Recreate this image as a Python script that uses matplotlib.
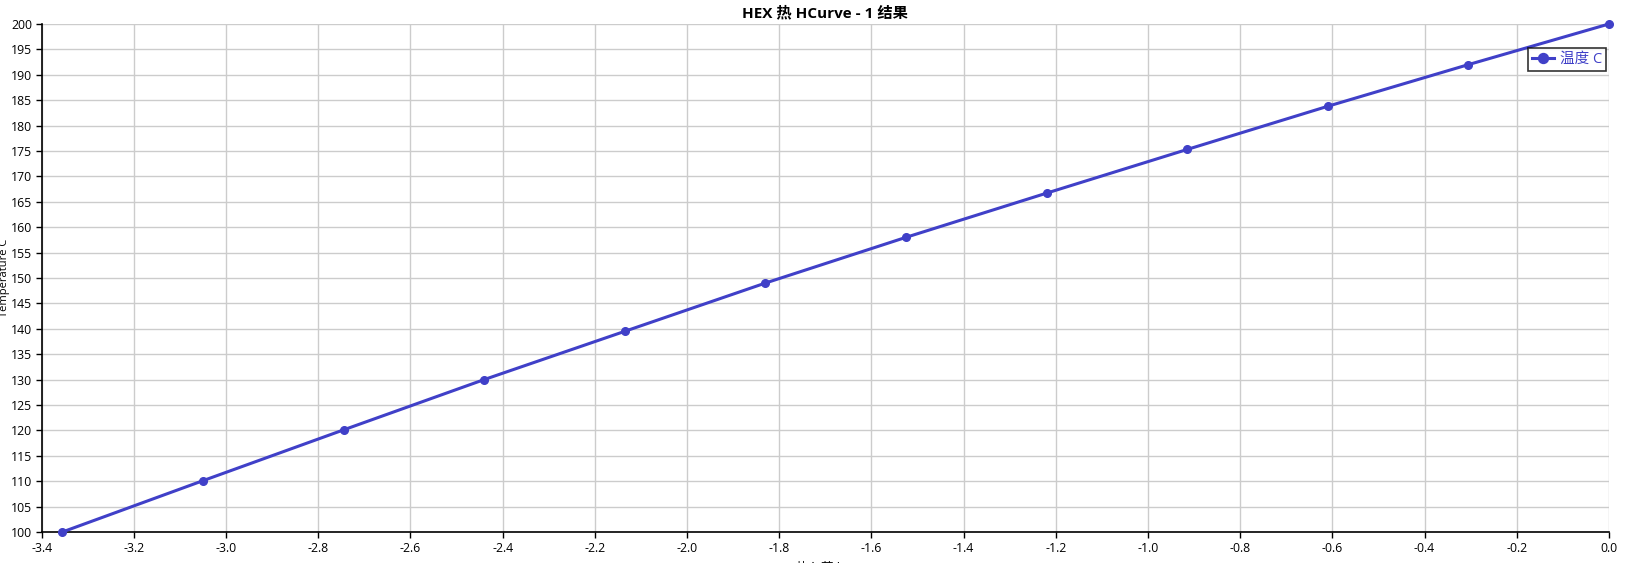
import matplotlib
matplotlib.use("Agg")
import numpy as np
from matplotlib import pyplot as plt

plt.rcParams['font.family'] = ['Open Sans', 'Noto Sans CJK SC', 'DejaVu Sans']

HEAT_DUTY = [-3.355, -3.05, -2.745, -2.44, -2.135, -1.83, -1.525, -1.22, -0.915, -0.61, -0.305, 0.0]
TEMPERATURE = [100.0, 110.1, 120.1, 130.0, 139.5, 149.0, 158.0, 166.7, 175.3, 183.8, 192.0, 200.0]
X_TICKS = np.round(np.arange(-3.4, 0.01, 0.2), 1)
Y_TICKS = np.arange(100, 201, 5)
LINE_COLOR = "#4040c8"


def main():
    fig = plt.figure(figsize=(16.27, 5.63), dpi=100)
    ax = fig.add_axes([0.0256, 0.0551, 0.9633, 0.9023])

    ax.plot(HEAT_DUTY, TEMPERATURE, color=LINE_COLOR, linewidth=2.2,
            marker="o", markersize=5.5, label="温度 C", clip_on=False, zorder=3)

    ax.set_xlim(-3.4, 0.0)
    ax.set_ylim(100, 200)
    ax.set_xticks(X_TICKS)
    ax.set_xticklabels([f"{v:.1f}" for v in X_TICKS])
    ax.set_yticks(Y_TICKS)
    ax.tick_params(labelsize=8.8, length=4, width=1, pad=3)
    ax.grid(True, color="#cccccc", linewidth=1)
    ax.set_axisbelow(True)
    for side in ["top", "right"]:
        ax.spines[side].set_visible(False)
    for side in ["left", "bottom"]:
        ax.spines[side].set_linewidth(1.2)

    ax.set_title("HEX 热 HCurve - 1 结果", fontsize=11, fontweight="bold", pad=5)
    ax.set_ylabel("Temperature C", fontsize=8)
    ax.yaxis.set_label_coords(-0.0205, 0.5)
    ax.set_xlabel("热负荷 kW", fontsize=9, labelpad=5)

    leg = ax.legend(loc="upper right", bbox_to_anchor=(1.003, 0.968), fontsize=10.5,
                    frameon=True, fancybox=False, edgecolor="black",
                    handlelength=1.5, borderpad=0.3, handletextpad=0.4,
                    markerscale=1.3)
    leg.get_frame().set_linewidth(1.2)
    for t in leg.get_texts():
        t.set_color(LINE_COLOR)

    fig.savefig("out.png", dpi=100)


if __name__ == "__main__":
    main()
